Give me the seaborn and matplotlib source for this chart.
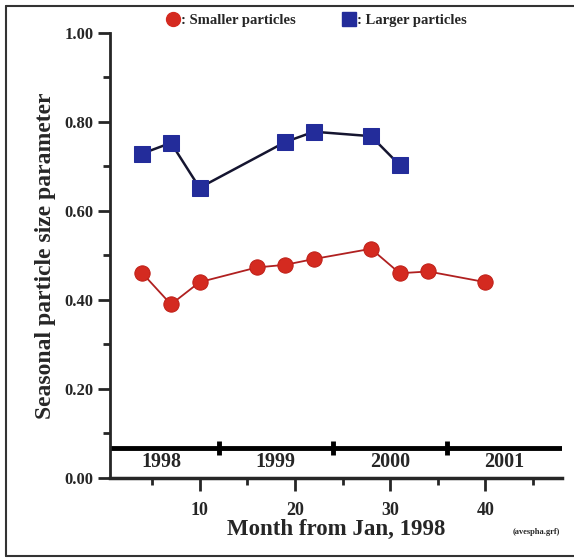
import seaborn as sns
import pandas as pd
import matplotlib.pyplot as plt
from matplotlib.lines import Line2D
from matplotlib.ticker import MultipleLocator

small_month = [4, 7, 10, 16, 19, 22, 28, 31, 34, 40]
small_value = [0.46, 0.39, 0.44, 0.473, 0.479, 0.492, 0.515, 0.46, 0.464, 0.44]

large_month = [4, 7, 10, 19, 22, 28, 31]
large_value = [0.729, 0.753, 0.652, 0.755, 0.778, 0.768, 0.703]

year_labels = ["1998", "1999", "2000", "2001"]
year_centers = [6, 18, 30, 42]
year_bounds = [12, 24, 36]

small_df = pd.DataFrame({"Month": small_month, "Value": small_value})
large_df = pd.DataFrame({"Month": large_month, "Value": large_value})

sns.set_style("ticks")
plt.rcParams["font.family"] = ["Liberation Serif", "DejaVu Serif"]
plt.rcParams["font.weight"] = "bold"

red = "#d42a20"
blue = "#232c9a"

fig = plt.figure(figsize=(5.74, 5.58), dpi=100)
ax = fig.add_axes([0.1916, 0.1434, 0.787, 0.7976])

sns.lineplot(data=large_df, x="Month", y="Value", ax=ax, color="#151530", lw=1.8,
             marker="s", markersize=11, markerfacecolor=blue, markeredgecolor=blue)
sns.lineplot(data=small_df, x="Month", y="Value", ax=ax, color="#b02020", lw=1.3,
             marker="o", markersize=11, markerfacecolor=red, markeredgecolor="#c02018")

# year band
ax.plot([0.6, 48], [0.068, 0.068], color="black", lw=3.5, solid_capstyle="butt")
for b in year_bounds:
    ax.plot([b, b], [0.052, 0.084], color="black", lw=3.5, solid_capstyle="butt")
for lab, c in zip(year_labels, year_centers):
    ax.text(c, 0.036, lab, ha="center", va="center", fontsize=14.5, fontweight="bold")

ax.set_xlim(0.6, 48)
ax.set_ylim(0, 1.0)
ax.xaxis.set_minor_locator(MultipleLocator(5))
ax.yaxis.set_minor_locator(MultipleLocator(0.1))
ax.set_xticks([10, 20, 30, 40])
ax.set_xticklabels(["10", "20", "30", "40"])
ax.set_yticks([0, 0.2, 0.4, 0.6, 0.8, 1.0])
ax.set_yticklabels(["0.00", "0.20", "0.40", "0.60", "0.80", "1.00"])
ax.tick_params(axis="both", which="major", length=9, width=2, labelsize=12, pad=3)
ax.tick_params(axis="both", which="minor", length=5, width=2)
ax.tick_params(axis="x", labelsize=13, pad=8)
for lab in ax.get_xticklabels() + ax.get_yticklabels():
    lab.set_fontweight("bold")

sns.despine(ax=ax)
ax.spines["left"].set_linewidth(2)
ax.spines["bottom"].set_linewidth(2.5)

ax.set_xlabel("Month from Jan, 1998", fontsize=16.5, fontweight="bold", labelpad=0)
ax.set_ylabel("Seasonal particle size parameter", fontsize=17, fontweight="bold", labelpad=6)

handles = [
    Line2D([], [], ls="", marker="o", markersize=10, color=red),
    Line2D([], [], ls="", marker="s", markersize=10, color=blue),
]
fig.legend(handles, [": Smaller particles", ": Larger particles"], loc="center",
           bbox_to_anchor=(0.551, 0.963), ncol=2, frameon=False,
           handletextpad=0.0, columnspacing=3.2, handlelength=1.0,
           prop={"weight": "bold", "size": 10.5})

fig.text(0.975, 0.046, "(avespha.grf)", fontsize=6, ha="right", va="center")

# scan frame
fig.add_artist(Line2D([0.0105, 1.0], [0.989, 0.989], color="#333333", lw=1.5))
fig.add_artist(Line2D([0.0105, 0.0105], [0.004, 0.989], color="#333333", lw=1.5))
fig.add_artist(Line2D([0.0105, 1.0], [0.004, 0.004], color="#333333", lw=1.5))

fig.savefig("out.png", dpi=100)
